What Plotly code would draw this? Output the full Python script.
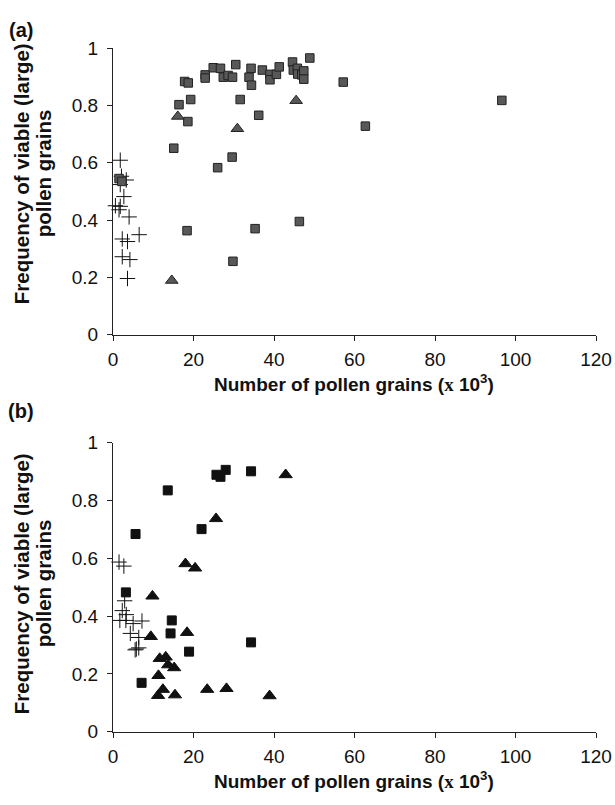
import plotly.graph_objects as go

# ---------------- data ----------------
# Panel (a)
a_sq_x = [17.8, 18.7, 22.9, 22.9, 24.9, 26.7, 27.4, 28.6, 29.7, 30.5, 33.8, 34.3, 34.4, 37.1,
          39.0, 39.0, 40.6, 41.3, 44.6, 44.8, 45.8, 45.9, 46.9, 47.4, 47.4, 48.9, 57.2, 96.6,
          19.3, 16.4, 31.6, 18.6, 36.2, 62.7, 15.1, 29.6, 26.0, 18.4, 35.3, 46.3, 29.8, 1.5, 2.2]
a_sq_y = [0.884, 0.879, 0.907, 0.896, 0.932, 0.930, 0.899, 0.905, 0.899, 0.943, 0.899, 0.930, 0.871, 0.924,
          0.909, 0.890, 0.909, 0.935, 0.952, 0.924, 0.930, 0.910, 0.907, 0.921, 0.892, 0.966, 0.882, 0.818,
          0.821, 0.803, 0.821, 0.744, 0.766, 0.728, 0.651, 0.620, 0.583, 0.363, 0.370, 0.395, 0.256, 0.545, 0.535]
a_tri_x = [16.1, 30.9, 45.5, 14.6]
a_tri_y = [0.762, 0.719, 0.817, 0.189]
a_plus_x = [1.8, 2.1, 3.3, 1.8, 2.7, 0.6, 1.8, 1.5, 4.0, 6.5, 2.3, 3.6, 2.3, 4.2, 3.6]
a_plus_y = [0.609, 0.553, 0.540, 0.524, 0.482, 0.450, 0.448, 0.436, 0.411, 0.349, 0.334, 0.325, 0.272, 0.262, 0.196]

# Panel (b)
b_sq_x = [25.7, 26.7, 28.0, 34.3, 13.6, 22.0, 5.6, 3.2, 14.6, 14.3, 34.3, 18.9, 7.1]
b_sq_y = [0.889, 0.882, 0.906, 0.901, 0.835, 0.701, 0.684, 0.482, 0.385, 0.340, 0.309, 0.277, 0.169]
b_tri_x = [42.9, 25.6, 18.0, 20.4, 9.8, 9.4, 18.4, 11.6, 13.1, 13.7, 15.2, 11.3, 12.4, 11.2, 15.4, 23.4, 28.2, 38.9]
b_tri_y = [0.889, 0.737, 0.581, 0.566, 0.469, 0.329, 0.343, 0.253, 0.258, 0.231, 0.221, 0.194, 0.146, 0.125,
           0.127, 0.146, 0.149, 0.124]
b_plus_x = [1.5, 2.7, 2.9, 2.3, 3.3, 1.7, 3.2, 5.0, 7.2, 4.3, 6.4, 5.8, 6.4, 5.5]
b_plus_y = [0.587, 0.573, 0.453, 0.419, 0.405, 0.385, 0.385, 0.374, 0.383, 0.340, 0.326, 0.286, 0.290, 0.283]

x_ticks = [0, 20, 40, 60, 80, 100, 120]
y_ticks = [0, 0.2, 0.4, 0.6, 0.8, 1]
y_tick_text = ["0", "0.2", "0.4", "0.6", "0.8", "1"]

x_title = "<b>Number of pollen grains (<span style='font-family:Liberation Serif'>x</span> 10<sup>3</sup>)</b>"
y_title_1 = "<b>Frequency of viable (large)</b>"
y_title_2 = "<b>pollen grains</b>"

# ---------------- figure ----------------
W, H = 615, 805
L, R = 113.3, 19.3

def fy(px):
    return 1 - px / H

fig = go.Figure()

gray = "#585858"
def add(x, y, symbol, size, fill, line_color, lw, xa, ya):
    fig.add_trace(go.Scatter(
        x=x, y=y, mode="markers", xaxis=xa, yaxis=ya, cliponaxis=False, showlegend=False,
        marker=dict(symbol=symbol, size=size, color=fill, line=dict(color=line_color, width=lw))))

# panel a
add(a_plus_x, a_plus_y, "cross-thin", 11, "#111", "#111", 1, "x", "y")
add(a_sq_x, a_sq_y, "square", 8.5, gray, "#222", 1, "x", "y")
add(a_tri_x, a_tri_y, "triangle-up", 11, gray, "#222", 1, "x", "y")
# panel b
add(b_plus_x, b_plus_y, "cross-thin", 11, "#111", "#111", 1, "x2", "y2")
add(b_sq_x, b_sq_y, "square", 9, "#111", "#111", 1, "x2", "y2")
add(b_tri_x, b_tri_y, "triangle-up", 11.5, "#111", "#111", 1, "x2", "y2")

axis_font = dict(family="Liberation Sans, Arial, sans-serif", size=19, color="#111")
xcommon = dict(range=[0, 120], tickvals=x_ticks, ticks="outside", ticklen=5, tickwidth=1, tickcolor="#222",
               showline=True, linecolor="#222", linewidth=1, showgrid=False, zeroline=False,
               tickfont=axis_font, domain=[0, 1], ticklabelstandoff=3)
ycommon = dict(range=[0, 1], tickvals=y_ticks, ticktext=y_tick_text, ticks="outside", ticklen=5, tickwidth=1,
               tickcolor="#222", showline=True, linecolor="#222", linewidth=1, showgrid=False, zeroline=False,
               tickfont=axis_font, ticklabelstandoff=5)

fig.update_layout(
    width=W, height=H,
    margin=dict(l=L, r=R, t=0, b=0),
    paper_bgcolor="white", plot_bgcolor="white",
    xaxis=dict(**xcommon, anchor="y"),
    yaxis=dict(**ycommon, domain=[fy(333.3), fy(39.3)], anchor="x"),
    xaxis2=dict(**xcommon, anchor="y2"),
    yaxis2=dict(**ycommon, domain=[fy(741), fy(444.3)], anchor="x2"),
)

font_family = "Liberation Sans, Arial, sans-serif"
pw = W - L - R
def px_x(px):
    return (px - L) / pw

anns = [
    dict(text="<b>(a)</b>", x=px_x(21), y=fy(21), size=20),
    dict(text="<b>(b)</b>", x=px_x(21), y=fy(412), size=20),
    dict(text=x_title, x=px_x(354), y=fy(383), size=19),
    dict(text=x_title, x=px_x(354), y=fy(791), size=19),
    dict(text=y_title_1, x=px_x(22), y=fy(168), size=20.5, textangle=-90),
    dict(text=y_title_2, x=px_x(44), y=fy(168), size=20.5, textangle=-90),
    dict(text=y_title_1, x=px_x(22), y=fy(589), size=20.5, textangle=-90),
    dict(text=y_title_2, x=px_x(44), y=fy(589), size=20.5, textangle=-90),
]
for a in anns:
    size = a.pop("size")
    fig.add_annotation(xref="paper", yref="paper", showarrow=False, xanchor="center", yanchor="middle",
                       font=dict(family=font_family, size=size, color="#111"), **a)

fig.write_html("out.html")
